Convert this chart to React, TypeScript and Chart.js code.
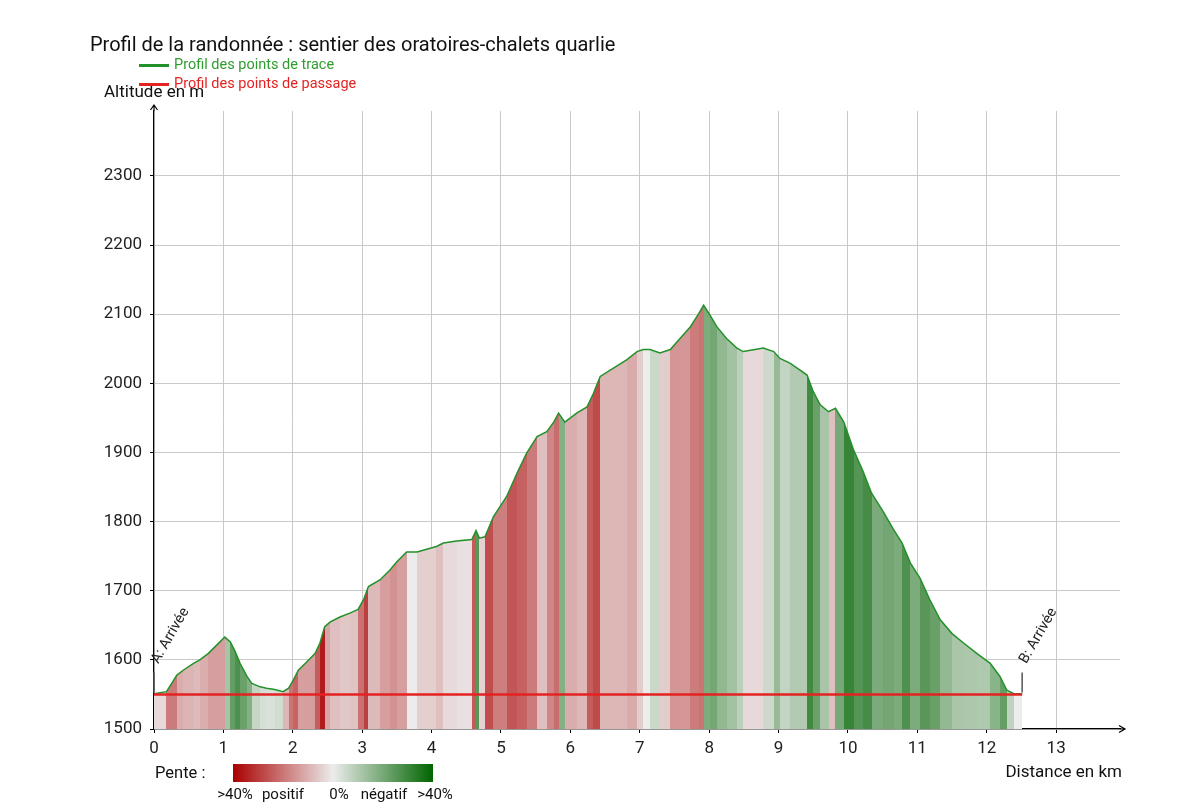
import React, { useEffect, useRef } from "react";
import { Chart, registerables } from "chart.js";

Chart.register(...registerables);

// ---------- data ----------
const TITLE = "Profil de la randonnée : sentier des oratoires-chalets quarlie";
const seriesLabels = ["Profil des points de trace", "Profil des points de passage"];
const yAxisTitle = "Altitude en m";
const xAxisTitle = "Distance en km";
const slopeTitle = "Pente :";
const slopeLegendLabels = [">40%", "positif", "0%", "négatif", ">40%"];

const xTickValues = [0, 1, 2, 3, 4, 5, 6, 7, 8, 9, 10, 11, 12, 13];
const yTickValues = [1500, 1600, 1700, 1800, 1900, 2000, 2100, 2200, 2300];

const distanceKm = [
  0.0, 0.18, 0.255, 0.33, 0.42, 0.57, 0.66, 0.78, 0.9, 1.02, 1.1, 1.17, 1.24, 1.34, 1.41,
  1.53, 1.62, 1.74, 1.86, 1.94, 2.01, 2.08, 2.2, 2.32, 2.39, 2.46, 2.54, 2.68, 2.83, 2.94,
  3.02, 3.09, 3.26, 3.4, 3.5, 3.64, 3.79, 3.93, 4.07, 4.17, 4.36, 4.58, 4.64, 4.69, 4.77,
  4.89, 5.08, 5.23, 5.37, 5.52, 5.66, 5.76, 5.83, 5.92, 6.09, 6.24, 6.33, 6.43, 6.62, 6.81,
  6.96, 7.05, 7.15, 7.29, 7.44, 7.58, 7.73, 7.85, 7.92, 8.01, 8.11, 8.25, 8.4, 8.49, 8.66,
  8.78, 8.93, 9.02, 9.17, 9.31, 9.41, 9.5, 9.6, 9.72, 9.82, 9.94, 10.08, 10.22, 10.34, 10.51,
  10.66, 10.78, 10.9, 11.04, 11.18, 11.33, 11.5, 11.67, 11.86, 12.05, 12.19, 12.29, 12.39, 12.51,
];
const altitudeM = [
  1551, 1554, 1566, 1578, 1585, 1595, 1600, 1609, 1621, 1633, 1626, 1612, 1595, 1576, 1566,
  1561, 1559, 1557, 1554, 1559, 1571, 1585, 1597, 1609, 1624, 1648, 1655, 1662, 1668, 1673,
  1687, 1706, 1716, 1730, 1742, 1756, 1756, 1760, 1764, 1769, 1772, 1774, 1787, 1776, 1778,
  1807, 1836, 1870, 1899, 1923, 1930, 1944, 1957, 1944, 1957, 1966, 1985, 2010, 2022, 2034,
  2046, 2049, 2049, 2044, 2049, 2065, 2082, 2101, 2113, 2099, 2082, 2065, 2051, 2046, 2049,
  2051, 2046, 2036, 2029, 2019, 2012, 1988, 1969, 1959, 1964, 1944, 1904, 1872, 1841, 1814,
  1788, 1769, 1740, 1718, 1687, 1658, 1638, 1624, 1609, 1595, 1576, 1556, 1551, 1551,
];

const passageKm = [0, 12.51];
const passageAlt = [1550, 1550];
const passageNames = ["A: Arrivée", "B: Arrivée"];

const X_MIN = 0;
const X_MAX = 13.92;
const Y_MIN = 1500;
const Y_MAX = 2394;

// ---------- styles ----------
const FONT = "Roboto, 'Noto Sans', sans-serif";
const TRACE_COLOR = "#23912a";
const TRACE_TEXT = "#2f9c2f";
const PASSAGE_COLOR = "#e42222";
const RED_DARK = [170, 0, 0];
const GREEN_DARK = [0, 100, 0];
const NEUTRAL = [236, 236, 236];

function mix(a: number[], b: number[], t: number) {
  const r = Math.round(a[0] + (b[0] - a[0]) * t);
  const g = Math.round(a[1] + (b[1] - a[1]) * t);
  const bb = Math.round(a[2] + (b[2] - a[2]) * t);
  return `rgb(${r},${g},${bb})`;
}

function slopeColor(s: number) {
  const t = Math.pow(Math.min(Math.abs(s) / 0.4, 1), 0.8);
  return mix(NEUTRAL, s >= 0 ? RED_DARK : GREEN_DARK, t);
}

const clamp01 = (v: number) => Math.max(0, Math.min(1, v));

function profileFill(ctx: any) {
  const chart = ctx.chart;
  const area = chart.chartArea;
  if (!area) return "rgba(0,0,0,0)";
  const xs = chart.scales.x;
  const w = area.right - area.left;
  const g = chart.ctx.createLinearGradient(area.left, 0, area.right, 0);
  for (let i = 0; i < distanceKm.length - 1; i++) {
    const p0 = clamp01((xs.getPixelForValue(distanceKm[i]) - area.left) / w);
    const p1 = clamp01((xs.getPixelForValue(distanceKm[i + 1]) - area.left) / w);
    const s = (altitudeM[i + 1] - altitudeM[i]) / ((distanceKm[i + 1] - distanceKm[i]) * 1000);
    const c = slopeColor(s);
    g.addColorStop(p0, c);
    g.addColorStop(p1, c);
  }
  return g;
}

const axisDecorations = {
  id: "axisDecorations",
  afterDraw(chart: any) {
    const { ctx, chartArea: a, scales } = chart;
    ctx.save();
    ctx.strokeStyle = "#000";
    ctx.lineWidth = 1.2;
    ctx.beginPath();
    ctx.moveTo(a.left, a.top);
    ctx.lineTo(a.left, a.top - 6);
    ctx.moveTo(a.left - 3.5, a.top - 1);
    ctx.lineTo(a.left, a.top - 6);
    ctx.lineTo(a.left + 3.5, a.top - 1);
    ctx.moveTo(a.right, a.bottom);
    ctx.lineTo(a.right + 5, a.bottom);
    ctx.moveTo(a.right - 1, a.bottom - 3.5);
    ctx.lineTo(a.right + 5, a.bottom);
    ctx.lineTo(a.right - 1, a.bottom + 3.5);
    ctx.stroke();
    for (let i = 0; i < passageKm.length; i++) {
      const px = scales.x.getPixelForValue(passageKm[i]);
      const py = scales.y.getPixelForValue(passageAlt[i]);
      ctx.strokeStyle = "#555";
      ctx.lineWidth = 1.5;
      ctx.beginPath();
      ctx.moveTo(px, py - 2);
      ctx.lineTo(px, py - 22);
      ctx.stroke();
      ctx.save();
      ctx.translate(px + 1, py - 32);
      ctx.rotate(-Math.PI / 3);
      ctx.fillStyle = "#222";
      ctx.font = `14.5px ${FONT}`;
      ctx.textAlign = "left";
      ctx.textBaseline = "middle";
      ctx.fillText(passageNames[i], 0, 0);
      ctx.restore();
    }
    ctx.restore();
  },
};

function Txt(props: { x: number; cy: number; size: number; color?: string; right?: boolean; children: any }) {
  const style: any = {
    position: "absolute",
    top: props.cy - props.size * 0.49,
    fontFamily: FONT,
    fontSize: props.size,
    lineHeight: "1",
    color: props.color || "#111",
    whiteSpace: "nowrap",
  };
  if (props.right) style.right = 1192 - props.x;
  else style.left = props.x;
  return <div style={style}>{props.children}</div>;
}

export default function App() {
  const ref = useRef<HTMLCanvasElement | null>(null);

  useEffect(() => {
    if (!ref.current) return;
    const chart = new Chart(ref.current, {
      type: "line",
      data: {
        datasets: [
          {
            label: seriesLabels[0],
            data: distanceKm.map((d, i) => ({ x: d, y: altitudeM[i] })),
            borderColor: TRACE_COLOR,
            borderWidth: 1.5,
            backgroundColor: profileFill as any,
            fill: "start",
            pointRadius: 0,
            tension: 0,
            order: 2,
          },
          {
            label: seriesLabels[1],
            data: passageKm.map((d, i) => ({ x: d, y: passageAlt[i] })),
            borderColor: PASSAGE_COLOR,
            borderWidth: 2.5,
            fill: false,
            pointRadius: 0,
            order: 1,
          },
        ],
      },
      options: {
        responsive: false,
        animation: false,
        events: [],
        layout: { padding: { top: 111, left: 0, right: 72, bottom: 52 } },
        plugins: {
          legend: { display: false },
          title: { display: false },
          tooltip: { enabled: false },
        },
        scales: {
          x: {
            type: "linear",
            min: X_MIN,
            max: X_MAX,
            afterBuildTicks(scale: any) {
              scale.ticks = xTickValues.map((v) => ({ value: v }));
            },
            afterFit(scale: any) {
              scale.height = 30;
            },
            ticks: {
              autoSkip: false,
              maxRotation: 0,
              padding: 6,
              color: "#222",
              font: { family: FONT, size: 17 },
              callback: (v: any) => String(v),
            },
            grid: { color: "#c9c9c9", lineWidth: 1, tickLength: 4, tickColor: "#000" },
            border: { color: "#000", width: 1.2 },
          },
          y: {
            type: "linear",
            min: Y_MIN,
            max: Y_MAX,
            afterBuildTicks(scale: any) {
              scale.ticks = yTickValues.map((v) => ({ value: v }));
            },
            afterFit(scale: any) {
              scale.width = 154;
            },
            ticks: {
              autoSkip: false,
              padding: 8,
              color: "#222",
              font: { family: FONT, size: 17 },
              callback: (v: any) => String(v),
            },
            grid: { color: "#c9c9c9", lineWidth: 1, tickLength: 4, tickColor: "#000" },
            border: { color: "#000", width: 1.2 },
          },
        },
      },
      plugins: [axisDecorations],
    });
    return () => chart.destroy();
  }, []);

  const legendLabelX = [235, 283, 339, 384, 435];

  return (
    <div style={{ position: "absolute", left: 0, top: 0, width: 1192, height: 811, background: "#fff" }}>
      <canvas ref={ref} width={1192} height={811} style={{ position: "absolute", left: 0, top: 0 }} />
      <Txt x={90} cy={44} size={20}>{TITLE}</Txt>
      <div style={{ position: "absolute", left: 139, top: 64, width: 30, height: 2.5, background: TRACE_COLOR }} />
      <Txt x={174} cy={65} size={14.5} color={TRACE_TEXT}>{seriesLabels[0]}</Txt>
      <Txt x={104} cy={91} size={17}>{yAxisTitle}</Txt>
      <div style={{ position: "absolute", left: 139, top: 83, width: 30, height: 2.5, background: PASSAGE_COLOR }} />
      <Txt x={174} cy={84} size={14.5} color={PASSAGE_COLOR}>{seriesLabels[1]}</Txt>
      <Txt x={1122} cy={771} size={17} right>{xAxisTitle}</Txt>
      <Txt x={155} cy={773} size={16.5}>{slopeTitle}</Txt>
      <div
        style={{
          position: "absolute",
          left: 233,
          top: 764,
          width: 200,
          height: 18,
          background: `linear-gradient(to right, rgb(${RED_DARK.join(",")}), rgb(${NEUTRAL.join(",")}) 50%, rgb(${GREEN_DARK.join(",")}))`,
        }}
      />
      {slopeLegendLabels.map((t, i) => (
        <div
          key={i}
          style={{
            position: "absolute",
            left: legendLabelX[i] - 60,
            width: 120,
            textAlign: "center",
            top: 794 - 15 * 0.49,
            fontFamily: FONT,
            fontSize: 15,
            lineHeight: "1",
            color: "#111",
          }}
        >
          {t}
        </div>
      ))}
    </div>
  );
}
